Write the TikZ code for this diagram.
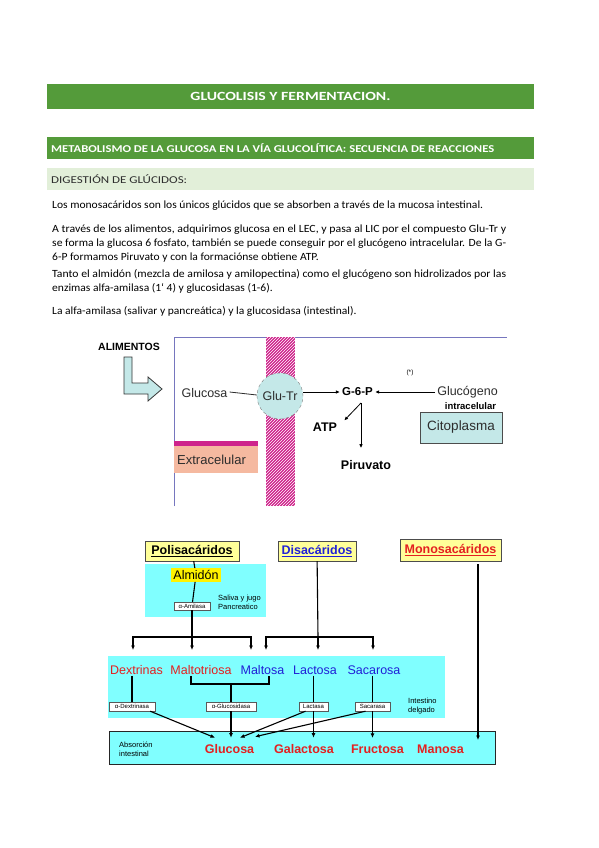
\documentclass[tikz,border=0pt]{standalone}
\usepackage{fontspec}
\setmainfont{Carlito}
\newfontfamily\arialf{Liberation Sans}
\usepackage{graphicx}
\usetikzlibrary{calc,patterns,arrows.meta}

\definecolor{verdeoscuro}{RGB}{84,155,58}
\definecolor{verdeclaro}{RGB}{226,239,217}
\definecolor{celeste}{RGB}{196,232,232}
\definecolor{cian}{RGB}{128,255,255}
\definecolor{membrana}{RGB}{206,36,140}
\definecolor{salmon}{RGB}{245,185,160}
\definecolor{amarillo}{RGB}{255,255,153}
\definecolor{rojo}{RGB}{228,32,32}
\definecolor{azul}{RGB}{32,32,215}
\definecolor{marco}{RGB}{118,118,190}
\definecolor{texto}{RGB}{45,45,45}

% ajusta el ancho de una linea sin tocar su altura
\newcommand{\ajusta}[2]{\resizebox{#1}{\height}{#2}}
\newcommand{\suelta}[1]{\scalebox{1.05}[1]{#1}}

\begin{document}
\begin{tikzpicture}[x=1pt, y=-1pt,
    barra/.style={fill=verdeoscuro},
    linea/.style={anchor=base west, inner sep=0pt, text=black, font=\fontsize{11}{13}\selectfont},
    rot/.style={inner sep=2pt, text=texto, font=\arialf\fontsize{12.5}{14}\selectfont},
    rotb/.style={inner sep=2pt, text=black, font=\arialf\bfseries\fontsize{12.5}{14}\selectfont},
    flechita/.style={-{Latex[length=4pt,width=3.5pt]}, line width=0.8pt},
    flecha/.style={-{Latex[length=4.5pt,width=4pt]}, line width=1.1pt},
    conector/.style={line width=1.1pt},
    enzima/.style={draw=gray!70!black, fill=white, inner sep=1pt, minimum height=9pt, font=\arialf\fontsize{6}{7}\selectfont},
    titulo/.style={draw=black!70, fill=amarillo, minimum height=20pt, inner sep=1pt, font=\arialf\bfseries\fontsize{12.5}{14}\selectfont},
    azucar/.style={inner sep=1pt, font=\arialf\fontsize{12.5}{14}\selectfont},
    monob/.style={inner sep=1pt, text=rojo, font=\arialf\bfseries\fontsize{12.5}{14}\selectfont},
    nota/.style={anchor=west, inner sep=0pt, align=left, font=\arialf\fontsize{7.5}{9}\selectfont}]

    \useasboundingbox (0,0) rectangle (599,848);
    \fill[white] (0,0) rectangle (599,848);

    % cabeceras
    \fill[barra] (47,84) rectangle (534,109);
    \node[text=white, inner sep=0pt, font=\bfseries\fontsize{12.5}{14}\selectfont] (titulo1) at (290.5,96.5) {\ajusta{200pt}{GLUCOLISIS Y FERMENTACION.}};
    \fill[barra] (47,137) rectangle (534,159);
    \node[anchor=west, text=white, inner sep=0pt, font=\bfseries\fontsize{10.5}{12}\selectfont] (titulo2) at (51,148) {\ajusta{443pt}{METABOLISMO DE LA GLUCOSA EN LA VÍA GLUCOLÍTICA: SECUENCIA DE REACCIONES}};
    \fill[verdeclaro] (47,168) rectangle (534,190);
    \node[anchor=west, text=texto, inner sep=0pt, font=\fontsize{10.5}{12}\selectfont] (titulo3) at (51,179) {\ajusta{136pt}{DIGESTIÓN DE GLÚCIDOS:}};

    % texto
    \node[linea] (p1) at (52,208) {\ajusta{431pt}{Los monosacáridos son los únicos glúcidos que se absorben a través de la mucosa intestinal.}};
    \node[linea] (p2) at (52,232) {\ajusta{454pt}{A través de los alimentos, adquirimos glucosa en el LEC, y pasa al LIC por el compuesto Glu-Tr y}};
    \node[linea] (p3) at (52,246) {\ajusta{454pt}{se forma la glucosa 6 fosfato, también se puede conseguir por el glucógeno intracelular. De la G-}};
    \node[linea] (p4) at (52,260) {\suelta{6-P formamos Piruvato y con la formaciónse obtiene ATP.}};
    \node[linea] (p5) at (52,277) {\ajusta{454pt}{Tanto el almidón (mezcla de amilosa y amilopectina) como el glucógeno son hidrolizados por las}};
    \node[linea] (p6) at (52,291) {\suelta{enzimas alfa-amilasa (1` 4) y glucosidasas (1-6).}};
    \node[linea] (p7) at (52,314) {\suelta{La alfa-amilasa (salivar y pancreática) y la glucosidasa (intestinal).}};

    % figura 1: entrada de la glucosa
    \draw[marco, line width=1pt] (174,506) -- (174,337) -- (507,337);
    \fill[membrana] (266,337) rectangle (295,506);
    \fill[pattern=north east lines, pattern color=white] (266,337) rectangle (295,506);
    \fill[salmon] (174,441) rectangle (258,473);
    \fill[membrana] (174,441) rectangle (258,446);
    \node[rot, anchor=west, inner sep=0pt, font=\arialf\fontsize{13}{15}\selectfont] (extra) at (177,460) {Extracelular};

    \node[inner sep=0pt, font=\arialf\bfseries\fontsize{10.5}{12}\selectfont] (alimentos) at (129,347) {ALIMENTOS};
    \draw[draw=gray!40!black, fill=celeste, line width=0.8pt] (124,357) -- (132,357) -- (132,383) -- (148,383) -- (148,377)
        -- (162,389) -- (148,401) -- (148,394) -- (124,394) -- cycle;

    \node[circle, minimum size=46pt, inner sep=0pt, fill=celeste, draw=gray, dashed, text=texto,
        font=\arialf\fontsize{12.5}{14}\selectfont] (glutr) at (280,396) {Glu-Tr};
    \node[rot] (glucosa) at (204.5,393) {Glucosa};
    \node[rotb, font=\arialf\bfseries\fontsize{11.5}{13}\selectfont] (g6p) at (357.5,392) {G-6-P};
    \node[rot] (glucogeno) at (467.5,392) {Glucógeno};
    \node[inner sep=0pt, font=\arialf\fontsize{6.5}{8}\selectfont] (ast) at (410,373) {(*)};
    \node[inner sep=0pt, font=\arialf\bfseries\fontsize{9.5}{11}\selectfont] (intra) at (470.5,406) {intracelular};
    \node[draw=gray!60!black, fill=celeste, minimum width=82pt, minimum height=31pt, text=texto,
        font=\arialf\fontsize{13.5}{15}\selectfont] (cito) at (461,427.5) {Citoplasma};
    \node[rotb] (atp) at (325,427) {ATP};
    \node[rotb] (piruvato) at (366,465) {Piruvato};

    \draw[line width=0.8pt, texto] ([yshift=1pt]glucosa.east) -- ([yshift=1pt]glutr.west);
    \draw[flechita] ([yshift=4pt]glutr.east) -- (g6p.west);
    \draw[flechita] (glucogeno.west) -- (g6p.east);
    \coordinate (bif) at (361,403);
    \draw[flechita, shorten >=10pt] (bif) -- (bif |- piruvato.north);
    \draw[flechita] (bif) -- ([xshift=5pt]atp.north east);

    % figura 2: digestion de los glucidos
    \fill[cian] (145,564) rectangle (266,617);
    \fill[cian] (108,656) rectangle (445,718);
    \node[draw=gray!30!black, fill=cian, minimum width=386pt, minimum height=33pt] (absorcion) at (302,747.5) {};

    \node[titulo, minimum width=94pt] (poli) at (192,551) {\underline{Polisacáridos}};
    \node[titulo, minimum width=78pt, text=azul] (disa) at (317,551) {\underline{Disacáridos}};
    \node[titulo, minimum width=101pt, minimum height=22pt, text=rojo] (monos) at (450.5,550) {\underline{Monosacáridos}};
    \node[fill=yellow, inner sep=2pt, font=\arialf\fontsize{12.5}{14}\selectfont] (almidon) at (196,575) {Almidón};
    \node[enzima, minimum width=36pt, minimum height=8pt] (amilasa) at (192,606) {α-Amilasa};
    \node[nota] (saliva) at (218,602.5) {Saliva y jugo\\Pancreatico};

    \node[azucar, text=rojo] (dextrinas) at (136.5,670) {Dextrinas};
    \node[azucar, text=rojo] (maltotriosa) at (201,670) {Maltotriosa};
    \node[azucar, text=azul] (maltosa) at (262.5,670) {Maltosa};
    \node[azucar, text=azul] (lactosa) at (315,670) {Lactosa};
    \node[azucar, text=azul] (sacarosa) at (374,670) {Sacarosa};

    \node[enzima, minimum width=46pt] (dextrinasa) at (132,706.5) {α-Dextrinasa};
    \node[enzima, minimum width=50pt] (glucosidasa) at (231,706.5) {α-Glucosidasa};
    \node[enzima, minimum width=29pt] (lactasa) at (313.5,706.5) {Lactasa};
    \node[enzima, minimum width=35pt] (sacarasa) at (372.5,706.5) {Sacarasa};
    \node[nota] (intestino) at (408,706.5) {Intestino\\delgado};
    \node[nota] (abs) at (119,749) {Absorción\\intestinal};

    \node[monob] (glucosaf) at (229.5,749) {Glucosa};
    \node[monob] (galactosa) at (304,749) {Galactosa};
    \node[monob] (fructosa) at (377.5,749) {Fructosa};
    \node[monob] (manosa) at (440.5,749) {Manosa};

    % ramas de los polisacaridos y disacaridos
    \coordinate (rama1) at (192,637);
    \coordinate (rama2) at (318,637);
    \foreach \n/\x in {d1/133, d2/192, d3/251, e1/266, e2/318, e3/373}
        \coordinate (\n) at (\x,650);
    \draw[conector] (poli) -- (almidon);
    \draw[conector] (almidon) -- (amilasa);
    \draw[conector] (amilasa) -- (rama1);
    \draw[conector] (disa) -- (rama2);
    \foreach \d in {d1,d2,d3}
        \draw[flecha] (rama1) -| (\d);
    \foreach \d in {e1,e2,e3}
        \draw[flecha] (rama2) -| (\d);
    \coordinate (m0) at (478,564);
    \coordinate (m1) at (478,740);
    \draw[flecha] (m0) -- (m1);

    % enzimas del intestino
    \coordinate (cm) at (231,684);
    \draw[conector] (dextrinasa.north |- dextrinas.south) -- (dextrinasa);
    \draw[conector] ([xshift=-10pt]maltotriosa.south) |- (cm) -| ([xshift=6.5pt]maltosa.south);
    \draw[conector] (cm) -- (glucosidasa);
    \draw[conector] (lactasa.north |- lactosa.south) -- (lactasa);
    \draw[conector] (sacarasa.north |- sacarosa.south) -- (sacarasa);

    % hacia la absorcion
    \draw[flecha] ([xshift=-5pt]dextrinasa.south east) -- ([xshift=-14.5pt,yshift=5.5pt]glucosaf.north);
    \draw[flecha, shorten >=5.5pt] (glucosidasa) -- (glucosidasa.south |- glucosaf.north);
    \draw[flecha] ([xshift=-8pt]lactasa.south) -- ([xshift=10.5pt,yshift=5.5pt]glucosaf.north);
    \draw[flecha] ([xshift=-7pt]sacarasa.south) -- ([xshift=25.5pt,yshift=6.5pt]glucosaf.north);
    \draw[flecha, shorten >=5.5pt] (lactasa) -- (lactasa.south |- galactosa.north);
    \draw[flecha, shorten >=5.5pt] (sacarasa) -- (sacarasa.south |- fructosa.north);
\end{tikzpicture}
\end{document}
